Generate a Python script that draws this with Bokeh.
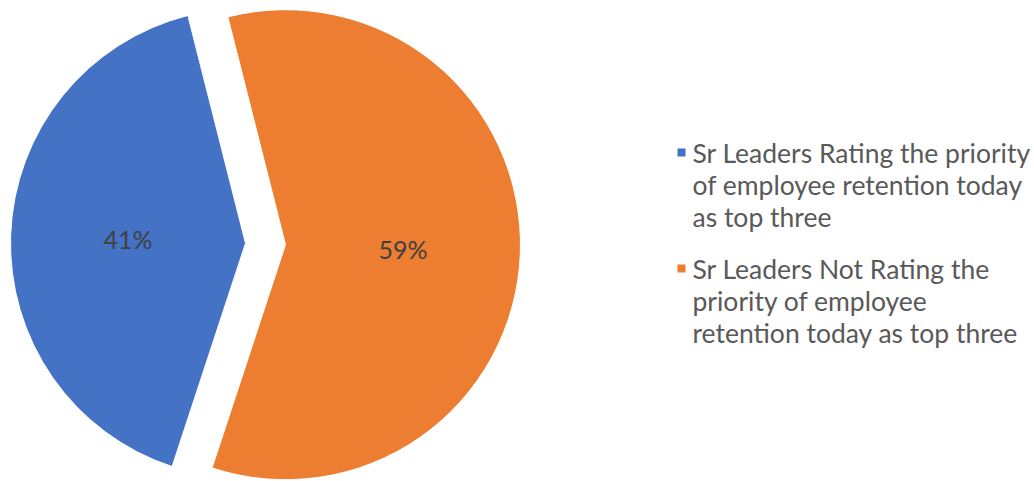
import numpy as np
from bokeh.plotting import figure
from bokeh.models import Range1d, ColumnDataSource
from bokeh.core.properties import value
from bokeh.embed import file_html
from bokeh.resources import INLINE

# ---- data ----
categories = [
    "Sr Leaders Rating the priority of employee retention today as top three",
    "Sr Leaders Not Rating the priority of employee retention today as top three",
]
shares = [41, 59]
pct_labels = ["41%", "59%"]
legend_lines = [
    ["Sr Leaders Rating the priority", "of employee retention today", "as top three"],
    ["Sr Leaders Not Rating the", "priority of employee", "retention today as top three"],
]
colors = ["#4472C4", "#ED7D31"]

# ---- layout ----
W, H = 1034, 481
CX, CY = 265.0, H - 243.5
R = 235.0
EXPLODE = 20.0
START = np.deg2rad(104.2)
FONT = "Lato"
FS_LAB = "25px"
FS_LEG = "26.5px"

frac = np.array(shares, dtype=float) / sum(shares)
ends = START + 2 * np.pi * np.cumsum(frac)
starts = ends - 2 * np.pi * frac
mids = (starts + ends) / 2
xs = CX + EXPLODE * np.cos(mids)
ys = CY + EXPLODE * np.sin(mids)
lx = xs + 0.5 * R * np.cos(mids)
ly = ys + 0.5 * R * np.sin(mids)

src = ColumnDataSource(dict(x=xs, y=ys, s=starts, e=ends, c=colors,
                            lx=lx, ly=ly, lab=pct_labels, cat=categories))

p = figure(width=W, height=H, x_range=Range1d(0, W), y_range=Range1d(0, H),
           output_backend="svg", toolbar_location=None, min_border=0)
p.axis.visible = False
p.grid.visible = False
p.outline_line_color = None
p.background_fill_color = "white"
p.border_fill_color = "white"

p.wedge(x="x", y="y", radius=R, start_angle="s", end_angle="e",
        fill_color="c", line_color="white", line_width=1, source=src)
p.text(x="lx", y="ly", text="lab", source=src, text_align="center",
       text_baseline="middle", text_font=value(FONT), text_font_size=FS_LAB,
       text_color="#404040")

# legend
TX, MX = 692, 681
FIRST_Y = 152
LSP = 32
PITCH = 116
tx, ty, tt = [], [], []
mx, my = [], []
for i, lines in enumerate(legend_lines):
    y0 = FIRST_Y + i * PITCH
    mx.append(MX)
    my.append(H - y0)
    for j, line in enumerate(lines):
        tx.append(TX)
        ty.append(H - (y0 + j * LSP))
        tt.append(line)

p.scatter(x=mx, y=my, marker="square", size=8, fill_color=colors, line_color=None)
p.text(x=tx, y=ty, text=tt, text_align="left", text_baseline="middle",
       text_font=value(FONT), text_font_size=FS_LEG, text_color="#595959")

open("out.html", "w").write(file_html(p, INLINE))
